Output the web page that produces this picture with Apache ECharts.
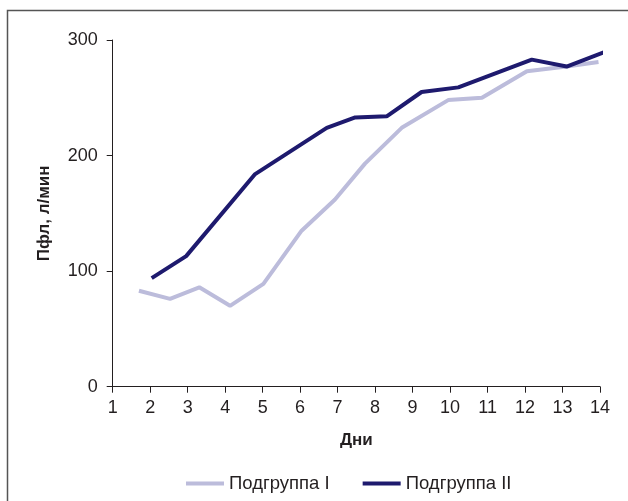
<!DOCTYPE html>
<html>
<head>
<meta charset="utf-8">
<script src="https://cdn.jsdelivr.net/npm/echarts@6/dist/echarts.min.js"></script>
<style>
  html, body { margin: 0; padding: 0; background: #fff; }
  #chart { width: 628px; height: 501px; }
</style>
</head>
<body>
<div id="chart"></div>
<script>
// Подгруппа I (точки)
var daysI = [1.70, 2.53, 3.31, 4.13, 5.02, 6.04, 6.93, 7.73, 8.71, 9.95, 10.85, 12.05, 13.11, 13.96];
var pflI = [83, 76, 86, 70, 89, 135, 162, 193, 224, 248, 250, 273, 277, 281];

// Подгруппа II
var daysII = [2.04, 2.96, 4.80, 6.71, 7.47, 8.31, 9.24, 10.22, 12.18, 13.11, 14.16];
var pflII = [94, 113, 184, 224, 233, 234, 255, 259, 283, 277, 290];

var seriesNames = ['Подгруппа I', 'Подгруппа II'];
var xTicks = [1, 14];
var yTicks = [0, 300];

function pairs(xs, ys) {
    return xs.map(function (x, i) { return [x, ys[i]]; });
}

var textColor = '#231f20';
var font = '"Liberation Sans", Arial, sans-serif';

var myChart = echarts.init(document.getElementById('chart'));

var option = {
    animation: false,
    backgroundColor: '#fff',
    graphic: [{
        type: 'rect',
        shape: { x: 7.5, y: 10.5, width: 700, height: 600 },
        style: { fill: 'none', stroke: '#555', lineWidth: 1.5 },
        silent: true
    }],
    grid: { left: 112.7, right: 28, top: 40, bottom: 114.3, containLabel: false },
    legend: {
        data: seriesNames,
        left: 181,
        top: 469,
        icon: 'rect',
        itemWidth: 38,
        itemHeight: 4,
        itemGap: 33,
        textStyle: { color: textColor, fontSize: 18.5, fontFamily: font }
    },
    xAxis: {
        type: 'value',
        min: xTicks[0],
        max: xTicks[1],
        interval: 1,
        name: 'Дни',
        nameLocation: 'middle',
        nameGap: 45,
        nameTextStyle: { color: textColor, fontSize: 17, fontWeight: 'bold', fontFamily: font },
        axisLine: { lineStyle: { color: textColor, width: 1 } },
        axisTick: { length: 6, lineStyle: { color: textColor } },
        axisLabel: { color: textColor, fontSize: 18, margin: 12, fontFamily: font },
        splitLine: { show: false }
    },
    yAxis: {
        type: 'value',
        min: yTicks[0],
        max: yTicks[1],
        interval: 100,
        name: 'Пфл, л/мин',
        nameLocation: 'middle',
        nameGap: 60,
        nameTextStyle: { color: textColor, fontSize: 17, fontWeight: 'bold', fontFamily: font },
        axisLine: { show: true, lineStyle: { color: textColor, width: 1 } },
        axisTick: { show: true, length: 6, lineStyle: { color: textColor } },
        axisLabel: { color: textColor, fontSize: 18, margin: 15, fontFamily: font },
        splitLine: { show: false }
    },
    series: [
        {
            name: seriesNames[0],
            type: 'line',
            data: pairs(daysI, pflI),
            showSymbol: false,
            symbol: 'none',
            color: '#bcbcdb',
            lineStyle: { width: 4, color: '#bcbcdb' },
            z: 2
        },
        {
            name: seriesNames[1],
            type: 'line',
            data: pairs(daysII, pflII),
            showSymbol: false,
            symbol: 'none',
            color: '#1e1a6e',
            lineStyle: { width: 4, color: '#1e1a6e' },
            z: 3
        }
    ]
};

option && myChart.setOption(option);
</script>
</body>
</html>
